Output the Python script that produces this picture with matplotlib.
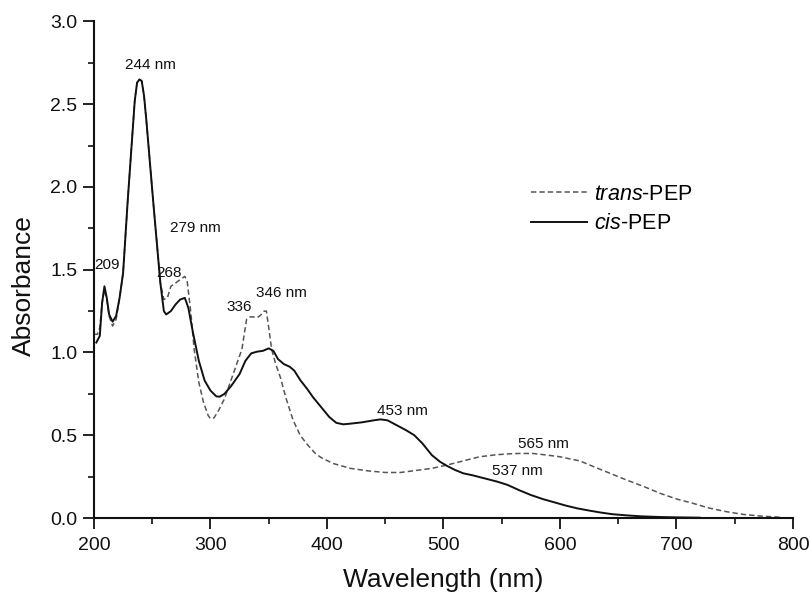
import matplotlib
matplotlib.use("Agg")
import matplotlib.pyplot as plt
from matplotlib.ticker import MultipleLocator

plt.rcParams['font.family'] = ['Liberation Sans', 'DejaVu Sans']
plt.rcParams['mathtext.fontset'] = 'custom'
plt.rcParams['mathtext.rm'] = 'Liberation Sans'
plt.rcParams['mathtext.it'] = 'Liberation Sans:italic'

# cis-PEP (solid)
cis_nm = [202, 205, 207, 209, 211, 213, 216, 219, 222, 225, 229, 233, 235, 237, 239, 241, 243, 245, 248, 251,
          254, 257, 260, 262, 266, 270, 274, 278, 281, 285, 290, 295, 300, 305, 308, 312, 318, 325,
          330, 335, 340, 345, 350, 354, 358, 363, 368, 372, 377, 383, 388, 395, 402, 408, 414, 420,
          430, 440, 446, 452, 460, 468, 475, 482, 490, 497, 503, 510, 517, 525, 535, 546, 555, 565,
          575, 585, 595, 605, 615, 625, 635, 645, 657, 670, 686, 700, 720]
cis_abs = [1.06, 1.10, 1.30, 1.40, 1.33, 1.23, 1.186, 1.22, 1.33, 1.48, 1.92, 2.32, 2.52, 2.63, 2.65, 2.64,
           2.55, 2.40, 2.15, 1.90, 1.66, 1.42, 1.25, 1.23, 1.25, 1.29, 1.32, 1.33, 1.27, 1.12, 0.95, 0.83,
           0.77, 0.735, 0.733, 0.75, 0.80, 0.87, 0.95, 0.995, 1.005, 1.01, 1.025, 1.01, 0.96, 0.93,
           0.914, 0.89, 0.834, 0.78, 0.73, 0.67, 0.61, 0.575, 0.566, 0.57, 0.578, 0.59, 0.596, 0.59,
           0.56, 0.53, 0.50, 0.45, 0.38, 0.34, 0.315, 0.29, 0.27, 0.258, 0.24, 0.22, 0.20, 0.168,
           0.139, 0.115, 0.095, 0.075, 0.058, 0.045, 0.033, 0.023, 0.016, 0.010, 0.006, 0.004, 0.002]

# trans-PEP (dashed)
trans_nm = [200, 203, 205, 207, 209, 211, 213, 216, 219, 222, 225, 229, 233, 235, 237, 239, 241, 243, 245, 248,
            251, 254, 257, 260, 263, 266, 270, 274, 278, 280, 283, 286, 290, 294, 298, 300, 303, 307,
            312, 316, 320, 324, 327, 331, 334, 337, 340, 343, 346, 348, 350, 352.5, 356, 360, 365,
            371, 377, 383, 390, 395, 405, 420, 435, 450, 463, 474, 490, 503, 517, 531, 545, 557, 565,
            577, 589, 600, 617, 629, 643, 657, 672, 686, 700, 714, 728, 743, 757, 772, 790]
trans_abs = [1.11, 1.11, 1.15, 1.30, 1.38, 1.32, 1.22, 1.16, 1.20, 1.33, 1.48, 1.92, 2.32, 2.52, 2.63, 2.65,
             2.64, 2.55, 2.40, 2.15, 1.90, 1.66, 1.42, 1.32, 1.33, 1.40, 1.42, 1.44, 1.46, 1.43, 1.25, 1.02,
             0.82, 0.70, 0.62, 0.60, 0.605, 0.65, 0.72, 0.80, 0.88, 0.96, 1.02, 1.20, 1.215, 1.215,
             1.21, 1.225, 1.25, 1.25, 1.15, 1.02, 0.93, 0.85, 0.72, 0.59, 0.50, 0.445, 0.39, 0.365,
             0.33, 0.30, 0.285, 0.275, 0.275, 0.285, 0.30, 0.32, 0.345, 0.37, 0.382, 0.388, 0.39,
             0.39, 0.38, 0.37, 0.345, 0.31, 0.27, 0.23, 0.19, 0.149, 0.115, 0.089, 0.06, 0.038,
             0.022, 0.012, 0.004]

# peak annotations: text, x (nm), y (absorbance)
ann_text = ["244 nm", "209", "268", "279 nm", "336", "346 nm", "453 nm", "565 nm", "537 nm"]
ann_x = [248.6, 211, 264.4, 287, 324.5, 360.8, 465, 585.4, 563.8]
ann_y = [2.74, 1.53, 1.48, 1.754, 1.273, 1.361, 0.647, 0.447, 0.284]

x_ticks = [200, 300, 400, 500, 600, 700, 800]
y_ticks = [0.0, 0.5, 1.0, 1.5, 2.0, 2.5, 3.0]

fig = plt.figure(figsize=(8.1, 5.95), dpi=100)
ax = fig.add_axes([0.116, 0.1294, 0.863, 0.8345])

ax.plot(trans_nm, trans_abs, color='#555555', lw=1.1, linestyle=(0, (3.5, 2)),
        label=r'$\mathit{trans}$-PEP')
ax.plot(cis_nm, cis_abs, color='#111111', lw=1.4, label=r'$\mathit{cis}$-PEP')

for t, xx, yy in zip(ann_text, ann_x, ann_y):
    ax.text(xx, yy, t, fontsize=11, ha='center', va='center', color='#111111')

ax.set_xlim(200, 800)
ax.set_ylim(0, 3.0)
ax.set_xticks(x_ticks)
ax.set_yticks(y_ticks)
ax.set_yticklabels([f"{v:.1f}" for v in y_ticks])
ax.xaxis.set_minor_locator(MultipleLocator(50))
ax.yaxis.set_minor_locator(MultipleLocator(0.25))

for s in ['top', 'right']:
    ax.spines[s].set_visible(False)
for s in ['left', 'bottom']:
    ax.spines[s].set_linewidth(1.5)
    ax.spines[s].set_color('#111111')

ax.tick_params(axis='both', which='major', direction='out', length=8, width=1.3,
               labelsize=14, colors='#111111')
ax.tick_params(axis='both', which='minor', direction='out', length=4.5, width=1.2,
               colors='#111111')
ax.tick_params(axis='x', which='major', pad=6)
ax.tick_params(axis='y', which='major', pad=4)

ax.set_xlabel('Wavelength (nm)', fontsize=19, color='#111111')
ax.set_ylabel('Absorbance', fontsize=19, color='#111111')
ax.xaxis.set_label_coords(0.5, -0.1)
ax.yaxis.set_label_coords(-0.083, 0.468)

leg = ax.legend(loc='center left', bbox_to_anchor=(0.625, 0.622), frameon=False,
                fontsize=15.5, handlelength=2.6, handletextpad=0.35, labelspacing=0.4,
                borderpad=0, borderaxespad=0)

fig.savefig('out.png', dpi=100)
